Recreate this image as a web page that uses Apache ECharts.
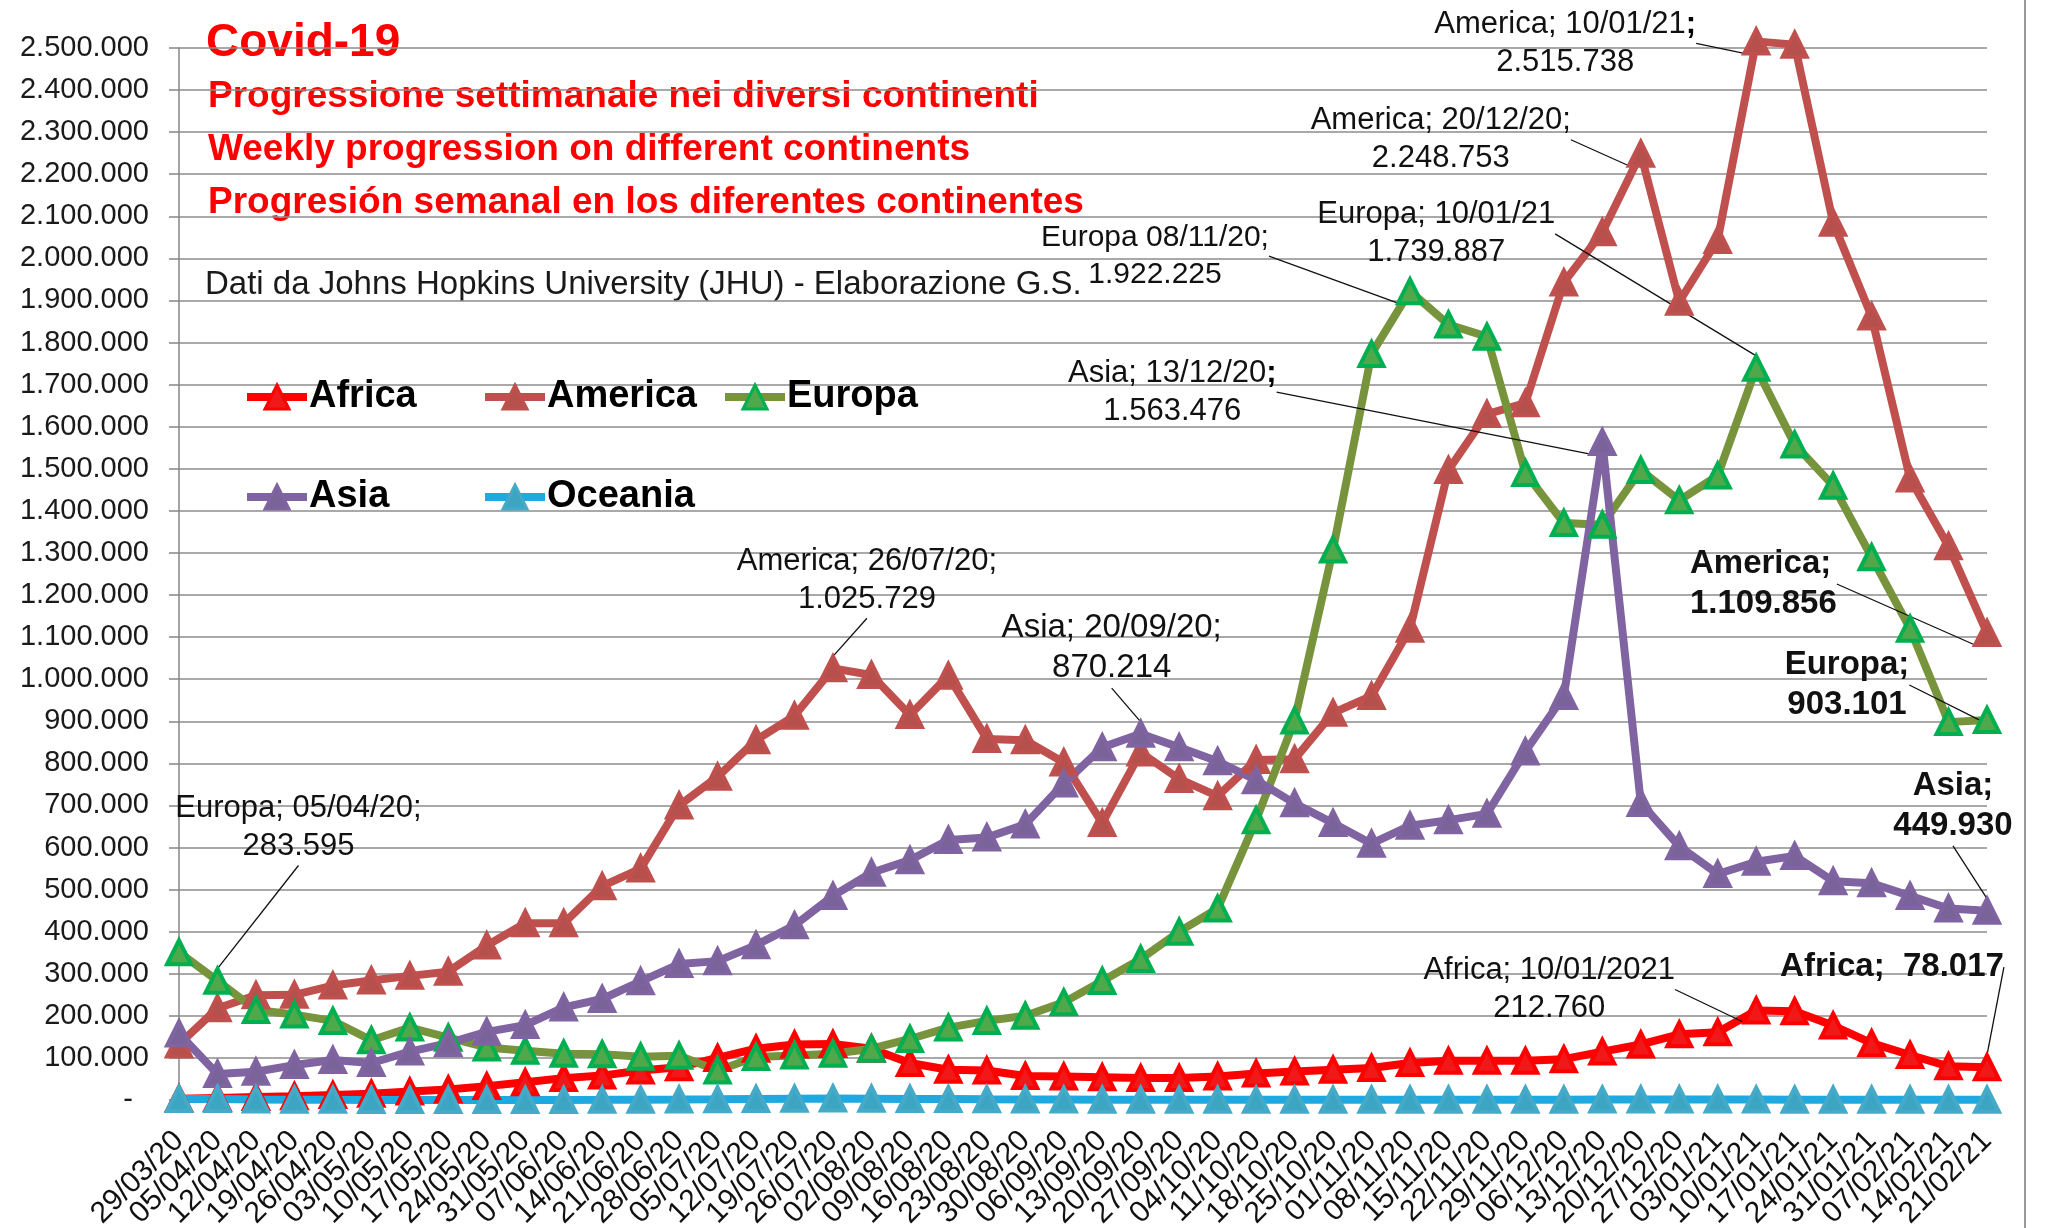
<!DOCTYPE html>
<html>
<head>
<meta charset="utf-8">
<script src="https://cdn.jsdelivr.net/npm/echarts@6/dist/echarts.min.js"></script>
<style>
  html, body { margin: 0; padding: 0; background: #fff; }
  #chart { width: 2047px; height: 1228px; }
</style>
</head>
<body>
<div id="chart"></div>
<script>
// weekly new cases per continent (JHU data)
const weeks = ['29/03/20','05/04/20','12/04/20','19/04/20','26/04/20','03/05/20','10/05/20','17/05/20','24/05/20','31/05/20',
  '07/06/20','14/06/20','21/06/20','28/06/20','05/07/20','12/07/20','19/07/20','26/07/20','02/08/20','09/08/20',
  '16/08/20','23/08/20','30/08/20','06/09/20','13/09/20','20/09/20','27/09/20','04/10/20','11/10/20','18/10/20',
  '25/10/20','01/11/20','08/11/20','15/11/20','22/11/20','29/11/20','06/12/20','13/12/20','20/12/20','27/12/20',
  '03/01/21','10/01/21','17/01/21','24/01/21','31/01/21','07/02/21','14/02/21','21/02/21'];

const africa = [3000, 5000, 7000, 9000, 12000, 15000, 20000, 25000, 33000, 42000,
  52000, 58000, 70000, 78000, 100000, 122000, 132000, 133000, 122000, 88000,
  72000, 70000, 57000, 56000, 54000, 52000, 52000, 56000, 63000, 68000,
  72000, 76000, 88000, 93000, 93000, 93000, 97000, 115000, 132000, 156000,
  161000, 212760, 211000, 177000, 135000, 107000, 80000, 78017];

const america = [132000, 218000, 249000, 250000, 272000, 284000, 295000, 305000, 367000, 420000,
  420000, 508000, 550000, 700000, 768000, 855000, 913000, 1025729, 1010000, 915000,
  1008000, 858000, 855000, 802000, 658000, 826000, 763000, 722000, 808000, 810000,
  920000, 960000, 1120000, 1497000, 1630000, 1656000, 1943000, 2062000, 2248753, 1897000,
  2044000, 2515738, 2508000, 2085000, 1862000, 1477000, 1316000, 1109856];

const europa = [351000, 283595, 214000, 203000, 188000, 142000, 172000, 148000, 125000, 117000,
  110000, 109000, 103000, 105000, 70000, 102000, 106000, 110000, 122000, 145000,
  172000, 188000, 200000, 232000, 283000, 335000, 400000, 455000, 665000, 902000,
  1308000, 1773000, 1922225, 1843000, 1814000, 1490000, 1371000, 1367000, 1497000, 1425000,
  1484000, 1739887, 1558000, 1460000, 1290000, 1120000, 898000, 903101];

const asia = [158000, 62000, 67000, 83000, 95000, 88000, 115000, 135000, 162000, 178000,
  220000, 240000, 282000, 323000, 330000, 368000, 415000, 485000, 540000, 570000,
  618000, 624000, 655000, 752000, 838000, 870214, 838000, 805000, 760000, 705000,
  658000, 609000, 652000, 665000, 680000, 828000, 960000, 1563476, 706000, 603000,
  537000, 566000, 580000, 520000, 515000, 485000, 455000, 449930];

const oceania = [2500, 2600, 1200, 600, 300, 200, 150, 150, 150, 200,
  250, 350, 600, 1000, 1600, 2500, 3200, 3600, 3200, 2600,
  2100, 1600, 1200, 900, 600, 500, 500, 450, 450, 500,
  500, 550, 600, 700, 650, 700, 800, 900, 1000, 1100,
  1000, 950, 850, 700, 600, 500, 450, 400];

const titleLines = ['Covid-19',
  'Progressione settimanale nei diversi continenti',
  'Weekly progression on different continents',
  'Progresión semanal en los diferentes continentes'];
const sourceText = 'Dati da Johns Hopkins University (JHU) - Elaborazione G.S.';

// callouts: %v is replaced by the point's value
const notes = [
  {s: 'Europa', i: 1, text: 'Europa; 05/04/20;\n%v', dx: 81, dy: -153, size: 31},
  {s: 'America', i: 17, text: 'America; 26/07/20;\n%v', dx: 34, dy: -88, size: 31},
  {s: 'Asia', i: 25, text: 'Asia; 20/09/20;\n%v', dx: -29, dy: -86, size: 33},
  {s: 'Europa', i: 32, text: 'Europa 08/11/20;\n%v', dx: -255, dy: -35, size: 30},
  {s: 'Asia', i: 37, text: 'Asia; 13/12/20{b|;}\n%v', dx: -430, dy: -50, size: 31},
  {s: 'America', i: 38, text: 'America; 20/12/20;\n%v', dx: -200, dy: -14, size: 31},
  {s: 'America', i: 41, text: 'America; 10/01/21{b|;}\n%v', dx: -191, dy: 2, size: 31},
  {s: 'Europa', i: 41, text: 'Europa; 10/01/21\n%v', dx: -320, dy: -134, size: 31},
  {s: 'America', i: 47, text: 'America;\n%v', dx: -297, dy: -49, size: 33, bold: true, align: 'left'},
  {s: 'Europa', i: 47, text: 'Europa;\n%v', dx: -140, dy: -35, size: 33, bold: true},
  {s: 'Asia', i: 47, text: 'Asia;\n%v', dx: -34, dy: -105, size: 33, bold: true},
  {s: 'Africa', i: 41, text: 'Africa; 10/01/2021\n%v', dx: -207, dy: -21, size: 31},
  {s: 'Africa', i: 47, text: 'Africa;  %v', dx: -95, dy: -100, size: 33, bold: true}
];

const FONT = "'Liberation Sans', Arial, sans-serif";
const fmt = v => String(v).replace(/\B(?=(\d{3})+(?!\d))/g, '.');

function makeSeries(name, values, lineColor, fill, border) {
  const mine = notes.filter(n => n.s === name);
  return {
    name: name,
    type: 'line',
    data: values.map((v, i) => {
      const n = mine.find(n => n.i === i);
      if (!n) return v;
      return {
        value: v,
        label: {
          show: true,
          formatter: n.text.replace('%v', fmt(v)),
          fontSize: n.size,
          lineHeight: n.size * 1.22,
          fontWeight: n.bold ? 'bold' : 'normal',
          align: n.align || 'center',
          rich: {b: {fontWeight: 'bold', fontSize: n.size, fontFamily: FONT, color: '#000'}}
        }
      };
    }),
    symbol: 'triangle',
    symbolSize: 24,
    lineStyle: {color: lineColor, width: 8},
    itemStyle: {color: fill, borderColor: border, borderWidth: 4},
    label: {show: false, position: 'inside', color: '#111', fontFamily: FONT},
    labelLine: {show: true, lineStyle: {color: '#111', width: 1.3}},
    labelLayout: function (p) {
      const n = mine.find(n => n.i === p.dataIndex);
      return n ? {dx: n.dx, dy: n.dy} : {};
    },
    clip: false,
    emphasis: {disabled: true},
    animation: false
  };
}

function legendAt(name, left, top) {
  return {
    data: [name], left: left, top: top, padding: 0,
    itemWidth: 60, itemHeight: 30, itemGap: 0,
    selectedMode: false,
    lineStyle: {width: 8},
    itemStyle: {borderWidth: 3},
    textStyle: {fontFamily: FONT, fontSize: 38, fontWeight: 'bold', color: '#000', lineHeight: 40, padding: [0, 0, 0, -3]}
  };
}

const chart = echarts.init(document.getElementById('chart'));
chart.setOption({
  backgroundColor: '#fff',
  animation: false,
  grid: {left: 179, right: 60, top: 48, bottom: 128, containLabel: false, outerBoundsMode: 'none'},
  legend: [
    legendAt('Africa', 243, 377),
    legendAt('America', 481, 377),
    legendAt('Europa', 721, 377),
    legendAt('Asia', 243, 477),
    legendAt('Oceania', 481, 477)
  ],
  xAxis: {
    type: 'category',
    data: weeks,
    boundaryGap: false,
    axisLine: {show: true, lineStyle: {color: '#868686', width: 1.5}},
    axisTick: {show: false},
    axisLabel: {interval: 0, rotate: 45, margin: 36, fontFamily: FONT, fontSize: 30, color: '#111'}
  },
  yAxis: {
    type: 'value',
    min: 0, max: 2500000, interval: 100000,
    axisLine: {show: true, lineStyle: {color: '#868686', width: 1.5}},
    axisTick: {show: true, length: 10, lineStyle: {color: '#868686', width: 1.5}},
    splitLine: {lineStyle: {color: '#8c8c8c', width: 1.5}},
    axisLabel: {
      margin: 30, fontFamily: FONT, fontSize: 29, color: '#1a1a1a',
      formatter: v => v === 0 ? '-  ' : fmt(v)
    }
  },
  graphic: [
    {type: 'text', left: 206, top: 20, style: {text: titleLines[0], font: 'bold 46px ' + FONT, fill: '#FF0000'}},
    {type: 'text', left: 208, top: 78, style: {text: titleLines[1], font: 'bold 37px ' + FONT, fill: '#FF0000'}},
    {type: 'text', left: 208, top: 131, style: {text: titleLines[2], font: 'bold 37px ' + FONT, fill: '#FF0000'}},
    {type: 'text', left: 208, top: 184, style: {text: titleLines[3], font: 'bold 37px ' + FONT, fill: '#FF0000'}},
    {type: 'text', left: 205, top: 268, style: {text: sourceText, font: '33px ' + FONT, fill: '#1a1a1a'}},
    {type: 'line', shape: {x1: 2025, y1: 0, x2: 2025, y2: 1228}, style: {stroke: '#9a9a9a', lineWidth: 2}}
  ],
  series: [
    makeSeries('Africa', africa, '#FF0000', '#F01818', '#FF0000'),
    makeSeries('America', america, '#C0504D', '#B5504C', '#C0504D'),
    makeSeries('Europa', europa, '#77933C', '#4FA84A', '#00B050'),
    makeSeries('Asia', asia, '#8064A2', '#7A6399', '#8064A2'),
    makeSeries('Oceania', oceania, '#1EA9E1', '#3DA5C4', '#45A9C8')
  ]
});
</script>
</body>
</html>
